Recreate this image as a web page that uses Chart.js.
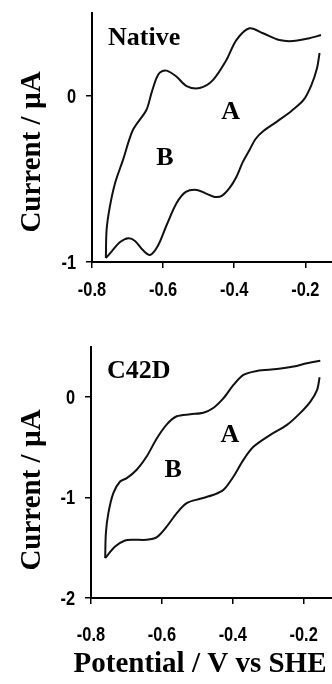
<!DOCTYPE html>
<html>
<head>
<meta charset="utf-8">
<script src="https://cdn.jsdelivr.net/npm/chart.js@4"></script>
<style>
  body { margin: 0; background: #fff; }
  .panel { position: absolute; left: 0; width: 332px; }
  #top { top: 0; height: 300px; }
  #bottom { top: 300px; height: 384px; }
</style>
</head>
<body>
<div class="panel" id="top"><canvas id="nativeChart"></canvas></div>
<div class="panel" id="bottom"><canvas id="c42dChart"></canvas></div>
<script>
// Native: oxidative sweep (upper branch) and reductive sweep (lower branch)
const nativeFwdV = [-0.761, -0.759, -0.750, -0.735, -0.713, -0.685, -0.647, -0.633, -0.619, -0.609, -0.590, -0.562, -0.534, -0.497, -0.460, -0.422, -0.394, -0.357, -0.319, -0.273, -0.235, -0.189, -0.156];
const nativeFwdI = [-0.976, -0.807, -0.669, -0.524, -0.386, -0.205, -0.084, 0.016, 0.106, 0.142, 0.153, 0.116, 0.060, 0.048, 0.096, 0.217, 0.337, 0.408, 0.378, 0.337, 0.331, 0.348, 0.367];
const nativeRevV = [-0.160, -0.167, -0.183, -0.205, -0.239, -0.278, -0.318, -0.340, -0.357, -0.376, -0.394, -0.413, -0.435, -0.455, -0.477, -0.505, -0.536, -0.562, -0.590, -0.615, -0.637, -0.657, -0.679, -0.698, -0.721, -0.744, -0.761];
const nativeRevI = [0.259, 0.169, 0.066, -0.024, -0.090, -0.151, -0.211, -0.259, -0.325, -0.398, -0.488, -0.554, -0.602, -0.608, -0.590, -0.566, -0.578, -0.645, -0.777, -0.904, -0.958, -0.928, -0.873, -0.857, -0.880, -0.934, -0.976];

// C42D mutant
const c42dFwdV = [-0.760, -0.758, -0.751, -0.737, -0.718, -0.699, -0.671, -0.643, -0.614, -0.586, -0.558, -0.520, -0.483, -0.454, -0.426, -0.398, -0.370, -0.332, -0.275, -0.228, -0.191, -0.153];
const c42dFwdI = [-1.602, -1.353, -1.154, -0.955, -0.840, -0.806, -0.723, -0.591, -0.408, -0.270, -0.190, -0.170, -0.155, -0.105, -0.010, 0.122, 0.222, 0.262, 0.280, 0.305, 0.338, 0.364];
const c42dRevV = [-0.155, -0.162, -0.181, -0.210, -0.247, -0.294, -0.341, -0.370, -0.398, -0.426, -0.454, -0.492, -0.530, -0.558, -0.586, -0.614, -0.643, -0.680, -0.704, -0.732, -0.760];
const c42dRevI = [0.199, 0.073, -0.044, -0.159, -0.276, -0.375, -0.492, -0.624, -0.790, -0.922, -0.972, -1.012, -1.055, -1.154, -1.287, -1.393, -1.420, -1.420, -1.427, -1.487, -1.602];

// tick labels
const xTicks = [-0.8, -0.6, -0.4, -0.2];
const xTickLabels = ['-0.8', '-0.6', '-0.4', '-0.2'];
const nativeYTicks = [-1, 0];
const nativeYTickLabels = ['-1', '0'];
const c42dYTicks = [-2, -1, 0];
const c42dYTickLabels = ['-2', '-1', '0'];

const serif = '"Liberation Serif", "Times New Roman", serif';
const sans = '"Liberation Sans", Arial, sans-serif';

const toPts = (vs, is) => vs.map((v, k) => ({ x: v, y: is[k] }));

// condensed bold tick labels, then panel name, peak letters and axis titles
const textPlugin = {
  id: 'panelText',
  afterDraw(chart, args, opts) {
    const { ctx, scales: { x, y } } = chart;
    ctx.save();
    ctx.fillStyle = '#000';
    ctx.font = `bold 20px ${sans}`;

    ctx.textAlign = 'center';
    ctx.textBaseline = 'alphabetic';
    xTicks.forEach((v, k) => {
      ctx.save();
      ctx.translate(x.getPixelForValue(v), x.top + opts.xLabelOffset);
      ctx.scale(0.82, 1);
      ctx.fillText(xTickLabels[k], 0, 0);
      ctx.restore();
    });

    ctx.textAlign = 'right';
    ctx.textBaseline = 'middle';
    opts.yTicks.forEach((v, k) => {
      ctx.save();
      ctx.translate(y.right - 16, y.getPixelForValue(v) + 1);
      ctx.scale(0.82, 1);
      ctx.fillText(opts.yTickLabels[k], 0, 0);
      ctx.restore();
    });

    ctx.textBaseline = 'alphabetic';
    opts.labels.forEach(l => {
      ctx.font = `bold ${l.size}px ${serif}`;
      ctx.textAlign = l.align;
      ctx.fillText(l.text, x.getPixelForValue(l.v), y.getPixelForValue(l.i));
    });

    if (opts.xTitle) {
      ctx.font = `bold 29px ${serif}`;
      ctx.textAlign = 'center';
      ctx.fillText(opts.xTitle.text, opts.xTitle.x, opts.xTitle.y);
    }

    // y axis title, rotated
    ctx.font = `bold 29px ${serif}`;
    ctx.textAlign = 'center';
    ctx.translate(opts.yTitle.x, opts.yTitle.y);
    ctx.rotate(-Math.PI / 2);
    ctx.fillText(opts.yTitle.text, 0, 0);
    ctx.restore();
  }
};

function makeChart(id, fwd, rev, cfg) {
  const line = { borderColor: '#111', borderWidth: 2, pointRadius: 0, showLine: true, tension: 0.3, fill: false };
  return new Chart(document.getElementById(id), {
    type: 'scatter',
    data: {
      datasets: [
        Object.assign({ data: fwd }, line),
        Object.assign({ data: rev }, line)
      ]
    },
    options: {
      responsive: true,
      maintainAspectRatio: false,
      animation: false,
      layout: { padding: { top: cfg.padTop, left: 0, right: 0, bottom: 0 } },
      scales: {
        x: {
          min: -0.8,
          max: cfg.xMax,
          afterBuildTicks: s => { s.ticks = xTicks.map(v => ({ value: v })); },
          afterFit: s => { s.height = cfg.xHeight; },
          ticks: { display: false },
          grid: { drawOnChartArea: false, drawTicks: true, tickLength: 6, color: '#000', lineWidth: 1.5 },
          border: { display: true, color: '#000', width: 2 }
        },
        y: {
          min: cfg.yMin,
          max: 0.5,
          afterBuildTicks: s => { s.ticks = cfg.yTicks.map(v => ({ value: v })); },
          afterFit: s => { s.width = cfg.yWidth; },
          ticks: { display: false },
          grid: { drawOnChartArea: false, drawTicks: true, tickLength: 6, color: '#000', lineWidth: 1.5 },
          border: { display: true, color: '#000', width: 2 }
        }
      },
      plugins: {
        legend: { display: false },
        tooltip: { enabled: false },
        panelText: {
          labels: cfg.labels, yTitle: cfg.yTitle, xTitle: cfg.xTitle,
          yTicks: cfg.yTicks, yTickLabels: cfg.yTickLabels, xLabelOffset: cfg.xLabelOffset
        }
      }
    },
    plugins: [textPlugin]
  });
}

makeChart('nativeChart', toPts(nativeFwdV, nativeFwdI), toPts(nativeRevV, nativeRevI), {
  padTop: 13, xHeight: 38, yWidth: 92, xMax: -0.125, yMin: -1, xLabelOffset: 34,
  yTicks: nativeYTicks, yTickLabels: nativeYTickLabels,
  labels: [
    { text: 'Native', v: -0.755, i: 0.307, size: 26, align: 'left' },
    { text: 'A', v: -0.410, i: -0.136, size: 26, align: 'center' },
    { text: 'B', v: -0.595, i: -0.416, size: 26, align: 'center' }
  ],
  yTitle: { text: 'Current / µA', x: 40, y: 152 }
});

makeChart('c42dChart', toPts(c42dFwdV, c42dFwdI), toPts(c42dRevV, c42dRevI), {
  padTop: 47, xHeight: 86, yWidth: 91, xMax: -0.12, yMin: -2, xLabelOffset: 43,
  yTicks: c42dYTicks, yTickLabels: c42dYTickLabels,
  labels: [
    { text: 'C42D', v: -0.755, i: 0.192, size: 26, align: 'left' },
    { text: 'A', v: -0.408, i: -0.442, size: 26, align: 'center' },
    { text: 'B', v: -0.568, i: -0.790, size: 26, align: 'center' }
  ],
  yTitle: { text: 'Current / µA', x: 40, y: 190 },
  xTitle: { text: 'Potential / V vs SHE', x: 200, y: 372 }
});
</script>
</body>
</html>
